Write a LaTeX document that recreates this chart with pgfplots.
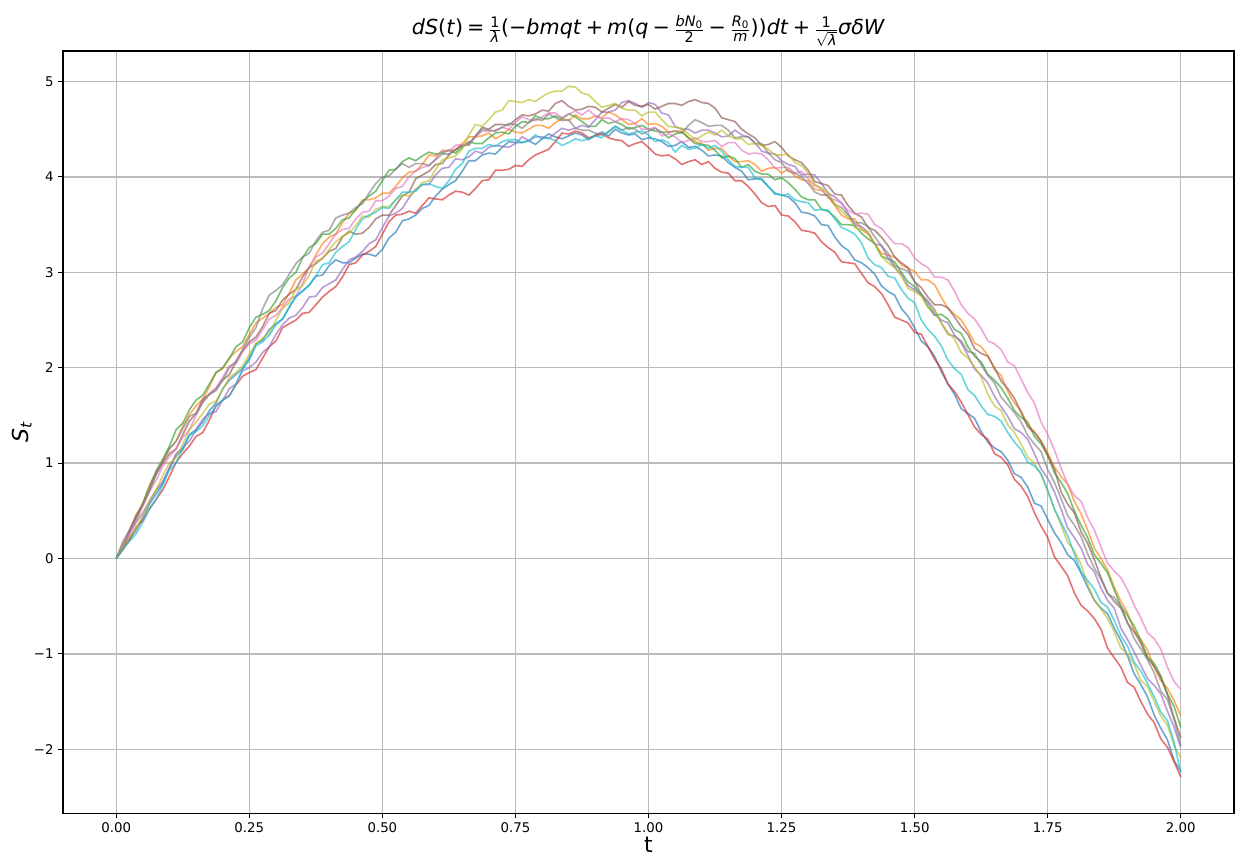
\documentclass[border=0pt]{standalone}
\usepackage{amsmath}
\usepackage{fontspec}
\setmainfont{DejaVu Sans}
\usepackage{pgfplots}
\usepackage{pgfplotstable}
\pgfplotsset{compat=1.18}
\definecolor{c0}{HTML}{1F77B4}
\definecolor{c1}{HTML}{FF7F0E}
\definecolor{c2}{HTML}{2CA02C}
\definecolor{c3}{HTML}{D62728}
\definecolor{c4}{HTML}{9467BD}
\definecolor{c5}{HTML}{8C564B}
\definecolor{c6}{HTML}{E377C2}
\definecolor{c7}{HTML}{7F7F7F}
\definecolor{c8}{HTML}{BCBD22}
\definecolor{c9}{HTML}{17BECF}
\definecolor{gridgray}{HTML}{BBBBBB}
\newcommand{\op}[1]{\hspace{0.2em}#1\hspace{0.2em}}
\pgfplotstableread{
t b o g r p br pk gr ol cy
0 0 0 0 0 0 0 0 0 0 0
0.0125 0.12 0.13 0.13 0.09 0.11 0.12 0.15 0.18 0.12 0.10
0.025 0.2 0.3 0.28 0.2 0.25 0.29 0.27 0.3 0.22 0.18
0.0375 0.30 0.46 0.41 0.33 0.38 0.45 0.39 0.43 0.32 0.26
0.05 0.43 0.58 0.58 0.4 0.48 0.56 0.55 0.57 0.45 0.38
0.0625 0.57 0.77 0.75 0.52 0.60 0.71 0.70 0.72 0.61 0.52
0.075 0.68 0.9 0.92 0.62 0.72 0.88 0.82 0.9 0.72 0.62
0.0875 0.79 1.02 1.04 0.72 0.81 1.00 0.97 1.03 0.87 0.77
0.1 0.95 1.15 1.18 0.86 0.95 1.1 1.07 1.15 1.0 0.93
0.1125 1.08 1.23 1.35 1.01 1.10 1.15 1.15 1.23 1.06 1.00
0.125 1.14 1.39 1.42 1.1 1.16 1.3 1.27 1.36 1.2 1.16
0.1375 1.30 1.51 1.56 1.18 1.23 1.44 1.35 1.49 1.35 1.29
0.15 1.35 1.6 1.66 1.28 1.35 1.52 1.5 1.52 1.43 1.33
0.1625 1.43 1.67 1.71 1.32 1.46 1.67 1.63 1.64 1.52 1.39
0.175 1.55 1.8 1.83 1.45 1.52 1.72 1.73 1.72 1.62 1.5
0.1875 1.63 1.95 1.95 1.60 1.54 1.78 1.79 1.76 1.65 1.60
0.2 1.78 1.99 2.0 1.66 1.66 1.87 1.9 1.87 1.77 1.66
0.2125 1.87 2.10 2.10 1.71 1.78 1.93 2.02 2.00 1.90 1.70
0.225 1.93 2.17 2.22 1.82 1.83 2.06 2.04 2.07 1.95 1.83
0.2375 1.99 2.22 2.27 1.91 1.97 2.18 2.17 2.19 2.02 1.99
0.25 2.1 2.35 2.42 1.95 2.0 2.27 2.25 2.32 2.14 2.08
0.2625 2.25 2.47 2.53 1.98 2.06 2.32 2.29 2.42 2.25 2.23
0.275 2.29 2.52 2.56 2.1 2.16 2.43 2.4 2.62 2.31 2.27
0.2875 2.40 2.57 2.60 2.22 2.22 2.57 2.51 2.76 2.36 2.34
0.3 2.46 2.63 2.7 2.28 2.35 2.6 2.55 2.81 2.5 2.45
0.3125 2.51 2.66 2.84 2.42 2.45 2.71 2.63 2.87 2.62 2.51
0.325 2.63 2.78 2.94 2.46 2.52 2.77 2.72 2.98 2.68 2.64
0.3375 2.75 2.92 3.00 2.50 2.55 2.82 2.75 3.09 2.82 2.74
0.35 2.8 2.98 3.15 2.57 2.63 2.95 2.88 3.16 2.86 2.81
0.3625 2.87 3.05 3.26 2.58 2.74 3.05 3.06 3.20 2.97 2.86
0.375 2.96 3.18 3.3 2.66 2.75 3.09 3.16 3.33 3.12 2.96
0.3875 2.97 3.30 3.40 2.74 2.84 3.15 3.20 3.42 3.14 3.08
0.4 3.07 3.37 3.4 2.8 2.88 3.22 3.3 3.44 3.24 3.1
0.4125 3.13 3.40 3.46 2.85 2.92 3.25 3.40 3.57 3.32 3.21
0.425 3.1 3.52 3.55 2.95 3.03 3.37 3.45 3.6 3.38 3.27
0.4375 3.10 3.62 3.57 3.08 3.13 3.43 3.46 3.62 3.41 3.32
0.45 3.15 3.65 3.66 3.1 3.16 3.4 3.56 3.68 3.49 3.45
0.4625 3.19 3.76 3.74 3.18 3.22 3.41 3.63 3.72 3.59 3.56
0.475 3.19 3.76 3.8 3.22 3.3 3.47 3.64 3.83 3.58 3.6
0.4875 3.17 3.78 3.85 3.27 3.34 3.56 3.75 3.93 3.66 3.63
0.5 3.24 3.83 3.96 3.4 3.47 3.6 3.75 4.0 3.69 3.68
0.5125 3.36 3.83 4.07 3.53 3.59 3.60 3.80 4.01 3.69 3.67
0.525 3.42 3.9 4.08 3.6 3.62 3.7 3.88 4.08 3.76 3.76
0.5375 3.54 3.99 4.16 3.61 3.67 3.80 3.90 4.14 3.81 3.84
0.55 3.56 4.05 4.2 3.64 3.78 3.84 4.0 4.1 3.8 3.84
0.5625 3.60 4.06 4.17 3.62 3.87 3.98 4.06 4.14 3.86 3.85
0.575 3.67 4.13 4.22 3.7 3.92 4.02 4.1 4.14 3.94 3.92
0.5875 3.70 4.23 4.26 3.78 3.92 4.06 4.12 4.12 3.96 3.93
0.6 3.8 4.22 4.24 3.77 4.02 4.13 4.19 4.18 4.08 3.9
0.6125 3.87 4.27 4.25 3.76 4.09 4.14 4.28 4.24 4.18 3.88
0.625 3.92 4.28 4.28 3.81 4.1 4.23 4.27 4.24 4.2 3.96
0.6375 3.96 4.28 4.25 3.85 4.19 4.29 4.33 4.28 4.22 4.08
0.65 4.06 4.35 4.31 3.84 4.18 4.33 4.34 4.33 4.29 4.14
0.6625 4.17 4.42 4.37 3.81 4.21 4.35 4.34 4.33 4.44 4.27
0.675 4.17 4.42 4.35 3.88 4.27 4.43 4.42 4.43 4.55 4.3
0.6875 4.23 4.43 4.35 3.96 4.25 4.52 4.48 4.50 4.53 4.30
0.7 4.25 4.46 4.41 3.97 4.31 4.5 4.48 4.49 4.6 4.34
0.7125 4.24 4.40 4.46 4.07 4.33 4.55 4.49 4.48 4.68 4.32
0.725 4.31 4.44 4.47 4.07 4.32 4.55 4.52 4.52 4.7 4.37
0.7375 4.37 4.50 4.45 4.08 4.31 4.54 4.50 4.56 4.80 4.39
0.75 4.36 4.47 4.53 4.12 4.35 4.6 4.57 4.55 4.79 4.39
0.7625 4.36 4.46 4.58 4.11 4.42 4.65 4.63 4.51 4.78 4.36
0.775 4.38 4.5 4.57 4.18 4.38 4.64 4.6 4.57 4.81 4.38
0.7875 4.34 4.54 4.64 4.23 4.42 4.66 4.59 4.61 4.79 4.44
0.8 4.4 4.54 4.61 4.26 4.42 4.7 4.63 4.59 4.84 4.4
0.8125 4.45 4.51 4.61 4.29 4.40 4.69 4.67 4.66 4.88 4.41
0.825 4.42 4.57 4.64 4.37 4.46 4.77 4.67 4.62 4.9 4.38
0.8375 4.40 4.61 4.61 4.46 4.51 4.80 4.62 4.59 4.90 4.33
0.85 4.43 4.59 4.66 4.45 4.49 4.74 4.66 4.6 4.95 4.36
0.8625 4.46 4.65 4.63 4.48 4.51 4.70 4.69 4.51 4.94 4.40
0.875 4.44 4.61 4.58 4.46 4.54 4.71 4.65 4.49 4.88 4.38
0.8875 4.39 4.61 4.53 4.41 4.52 4.74 4.70 4.49 4.86 4.40
0.9 4.44 4.64 4.53 4.43 4.6 4.73 4.64 4.46 4.79 4.43
0.9125 4.47 4.62 4.60 4.45 4.68 4.68 4.61 4.44 4.73 4.41
0.925 4.43 4.68 4.56 4.41 4.68 4.72 4.62 4.47 4.75 4.48
0.9375 4.50 4.65 4.58 4.39 4.70 4.76 4.58 4.53 4.77 4.53
0.95 4.46 4.6 4.55 4.38 4.78 4.73 4.61 4.49 4.72 4.49
0.9625 4.44 4.55 4.50 4.32 4.80 4.79 4.60 4.52 4.70 4.45
0.975 4.45 4.56 4.52 4.35 4.77 4.75 4.56 4.5 4.7 4.47
0.9875 4.39 4.61 4.54 4.37 4.73 4.74 4.50 4.45 4.64 4.48
1.0 4.41 4.55 4.5 4.31 4.78 4.76 4.5 4.48 4.68 4.44
1.0125 4.40 4.56 4.48 4.24 4.76 4.71 4.52 4.51 4.68 4.37
1.025 4.37 4.53 4.47 4.22 4.67 4.74 4.43 4.47 4.6 4.39
1.0375 4.32 4.47 4.41 4.23 4.65 4.77 4.45 4.47 4.53 4.36
1.05 4.33 4.48 4.45 4.19 4.53 4.77 4.42 4.48 4.52 4.26
1.0625 4.37 4.48 4.47 4.13 4.50 4.75 4.36 4.46 4.51 4.33
1.075 4.31 4.41 4.41 4.16 4.5 4.79 4.38 4.54 4.45 4.29
1.0875 4.32 4.37 4.35 4.18 4.46 4.81 4.41 4.60 4.39 4.30
1.1 4.28 4.35 4.34 4.13 4.49 4.78 4.37 4.57 4.43 4.34
1.1125 4.22 4.28 4.33 4.16 4.49 4.77 4.37 4.53 4.47 4.30
1.125 4.23 4.3 4.28 4.09 4.46 4.72 4.38 4.54 4.44 4.33
1.1375 4.22 4.30 4.20 4.05 4.42 4.62 4.32 4.54 4.49 4.27
1.15 4.15 4.22 4.22 4.04 4.43 4.6 4.36 4.49 4.43 4.18
1.1625 4.10 4.16 4.19 3.96 4.49 4.58 4.36 4.41 4.40 4.11
1.175 4.06 4.16 4.1 3.96 4.44 4.5 4.28 4.42 4.4 4.1
1.1875 3.97 4.17 4.13 3.90 4.42 4.45 4.24 4.42 4.34 4.10
1.2 3.98 4.13 4.06 3.82 4.36 4.41 4.25 4.35 4.35 3.99
1.2125 3.98 4.06 4.03 3.73 4.27 4.33 4.24 4.35 4.33 3.97
1.225 3.9 4.09 4.03 3.69 4.25 4.34 4.18 4.25 4.29 3.9
1.2375 3.83 4.10 3.97 3.70 4.24 4.37 4.09 4.18 4.23 3.82
1.25 3.81 4.04 3.99 3.6 4.17 4.31 4.1 4.15 4.23 3.81
1.2625 3.79 4.08 3.94 3.59 4.13 4.22 4.10 4.06 4.24 3.82
1.275 3.73 4.01 3.87 3.53 4.11 4.18 4.04 4.04 4.15 3.76
1.2875 3.63 3.97 3.79 3.44 4.02 4.15 4.06 4.00 4.12 3.74
1.3 3.62 3.96 3.76 3.43 4.03 4.07 3.98 3.93 4.04 3.73
1.3125 3.59 3.87 3.76 3.41 4.02 3.95 3.91 3.84 3.92 3.65
1.325 3.5 3.86 3.66 3.32 3.93 3.93 3.88 3.81 3.88 3.66
1.3375 3.49 3.79 3.64 3.26 3.83 3.91 3.78 3.81 3.83 3.65
1.35 3.37 3.7 3.58 3.21 3.79 3.82 3.76 3.71 3.72 3.56
1.3625 3.28 3.60 3.50 3.11 3.73 3.81 3.72 3.68 3.64 3.47
1.375 3.23 3.56 3.5 3.1 3.62 3.7 3.65 3.6 3.58 3.44
1.3875 3.13 3.56 3.49 3.09 3.50 3.62 3.61 3.52 3.47 3.40
1.4 3.1 3.45 3.41 2.99 3.48 3.58 3.62 3.52 3.45 3.31
1.4125 3.05 3.40 3.35 2.89 3.42 3.47 3.61 3.48 3.42 3.15
1.425 2.98 3.3 3.3 2.85 3.3 3.44 3.5 3.37 3.3 3.08
1.4375 2.86 3.20 3.17 2.78 3.28 3.37 3.46 3.28 3.17 3.05
1.45 2.8 3.18 3.14 2.66 3.15 3.28 3.38 3.2 3.1 2.96
1.4625 2.76 3.16 3.11 2.53 3.05 3.16 3.30 3.07 3.05 2.94
1.475 2.62 3.08 3.0 2.5 2.98 3.1 3.3 3.04 2.96 2.82
1.4875 2.54 3.04 2.90 2.47 2.86 3.05 3.26 3.01 2.83 2.73
1.5 2.42 3.01 2.85 2.37 2.82 2.9 3.15 2.9 2.8 2.68
1.5125 2.28 2.92 2.77 2.35 2.76 2.84 3.09 2.77 2.75 2.50
1.525 2.22 2.92 2.64 2.22 2.68 2.74 3.05 2.7 2.63 2.4
1.5375 2.12 2.87 2.55 2.09 2.56 2.66 2.95 2.61 2.60 2.33
1.55 1.96 2.74 2.56 1.99 2.5 2.66 2.95 2.47 2.47 2.23
1.5625 1.83 2.62 2.51 1.83 2.47 2.63 2.92 2.35 2.37 2.08
1.575 1.72 2.56 2.4 1.75 2.34 2.53 2.8 2.33 2.3 1.99
1.5875 1.57 2.50 2.36 1.64 2.26 2.43 2.66 2.28 2.16 1.93
1.6 1.52 2.39 2.22 1.51 2.13 2.35 2.57 2.17 2.1 1.77
1.6125 1.47 2.26 2.12 1.38 1.99 2.20 2.51 2.15 2.01 1.71
1.625 1.33 2.22 2.06 1.3 1.92 2.15 2.41 2.03 1.9 1.6
1.6375 1.22 2.13 1.93 1.25 1.84 2.12 2.28 1.92 1.72 1.51
1.65 1.16 1.98 1.87 1.1 1.7 2.0 2.25 1.84 1.6 1.49
1.6625 1.12 1.92 1.79 1.06 1.59 1.86 2.19 1.69 1.55 1.44
1.675 1.03 1.75 1.68 0.98 1.49 1.78 2.06 1.61 1.4 1.32
1.6875 0.89 1.63 1.55 0.83 1.36 1.68 2.02 1.53 1.32 1.22
1.7 0.85 1.55 1.48 0.76 1.32 1.53 1.88 1.43 1.2 1.14
1.7125 0.75 1.40 1.43 0.65 1.25 1.38 1.74 1.29 1.06 1.01
1.725 0.58 1.33 1.28 0.48 1.1 1.32 1.63 1.2 1.0 0.97
1.7375 0.55 1.23 1.20 0.34 0.94 1.23 1.43 1.12 0.88 0.89
1.75 0.41 1.11 1.08 0.22 0.84 1.08 1.3 0.93 0.7 0.72
1.7625 0.27 0.96 0.90 0.02 0.70 0.94 1.14 0.80 0.52 0.52
1.775 0.17 0.86 0.8 -0.08 0.52 0.7 0.95 0.63 0.35 0.38
1.7875 0.04 0.78 0.68 -0.18 0.32 0.57 0.78 0.45 0.17 0.24
1.8 -0.02 0.6 0.5 -0.36 0.22 0.48 0.66 0.35 0.08 0.05
1.8125 -0.15 0.47 0.35 -0.49 0.11 0.28 0.60 0.23 -0.06 -0.14
1.825 -0.3 0.3 0.22 -0.55 -0.06 0.16 0.43 0.05 -0.27 -0.23
1.8375 -0.44 0.11 0.04 -0.63 -0.14 -0.01 0.30 -0.10 -0.43 -0.32
1.85 -0.52 0.0 -0.05 -0.74 -0.31 -0.2 0.12 -0.22 -0.53 -0.46
1.8625 -0.58 -0.12 -0.15 -0.94 -0.44 -0.36 -0.05 -0.37 -0.63 -0.51
1.875 -0.73 -0.3 -0.33 -1.04 -0.52 -0.45 -0.13 -0.41 -0.77 -0.65
1.8875 -0.86 -0.45 -0.50 -1.14 -0.73 -0.52 -0.20 -0.50 -0.94 -0.81
1.9 -1.02 -0.57 -0.6 -1.3 -0.85 -0.68 -0.33 -0.67 -1.0 -0.92
1.9125 -1.21 -0.76 -0.71 -1.35 -0.98 -0.77 -0.49 -0.84 -1.11 -1.09
1.925 -1.32 -0.85 -0.86 -1.5 -1.12 -0.89 -0.62 -0.95 -1.28 -1.18
1.9375 -1.45 -0.96 -1.03 -1.63 -1.26 -1.05 -0.78 -1.06 -1.34 -1.31
1.95 -1.64 -1.14 -1.1 -1.72 -1.33 -1.13 -0.84 -1.2 -1.5 -1.45
1.9625 -1.78 -1.28 -1.23 -1.89 -1.42 -1.25 -0.95 -1.39 -1.65 -1.61
1.975 -1.9 -1.36 -1.42 -1.98 -1.6 -1.43 -1.14 -1.48 -1.75 -1.7
1.9875 -2.12 -1.49 -1.55 -2.13 -1.77 -1.67 -1.29 -1.69 -1.96 -1.93
2.0 -2.23 -1.65 -1.77 -2.29 -1.98 -1.88 -1.37 -1.96 -2.09 -2.25
}\data

\begin{document}
\begin{tikzpicture}
\begin{axis}[
  width=878pt, height=571.5pt, scale only axis,
  xmin=-0.1, xmax=2.1, ymin=-2.67, ymax=5.32,
  xtick={0,0.25,0.5,0.75,1,1.25,1.5,1.75,2},
  xticklabels={0.00,0.25,0.50,0.75,1.00,1.25,1.50,1.75,2.00},
  ytick={-2,-1,0,1,2,3,4,5},
  yticklabels={−2,−1,0,1,2,3,4,5},
  grid=major,
  major grid style={line width=1pt, color=gridgray},
  tick align=outside,
  major tick length=3.6pt,
  tick style={line width=0.8pt, color=black},
  axis line style={line width=0.8pt},
  xtick pos=bottom, ytick pos=left,
  tick label style={font=\fontsize{10}{12}\selectfont},
  xlabel={t},
  ylabel={\textit{S}$_{\textit{t}}$},
  xlabel style={font=\fontsize{16.5}{20}\selectfont, at={(axis description cs:0.5,-0.042)}, anchor=center},
  ylabel style={font=\fontsize{16.5}{20}\selectfont, at={(axis description cs:-0.0353,0.5)}, anchor=center},
  title={\textit{dS}(\textit{t})\op{=}$\frac{\text{1}}{\textit{λ}}$(−\textit{bmqt}\op{+}\textit{m}(\textit{q}\op{−}$\frac{\textit{bN}_{\text{0}}}{\text{2}}$\op{−}$\frac{\textit{R}_{\text{0}}}{\textit{m}}$))\textit{dt}\op{+}$\frac{\text{1}}{\sqrt{\textit{λ}}}$\textit{σδW}},
  title style={font=\fontsize{15.5}{19}\selectfont, at={(axis description cs:0.5,1)}, anchor=base, yshift=6pt},
  every axis plot/.append style={line width=1.2pt, opacity=0.65},
]
\addplot[c0] table[x=t,y=b]{\data};
\addplot[c1] table[x=t,y=o]{\data};
\addplot[c2] table[x=t,y=g]{\data};
\addplot[c3] table[x=t,y=r]{\data};
\addplot[c4] table[x=t,y=p]{\data};
\addplot[c5] table[x=t,y=br]{\data};
\addplot[c6] table[x=t,y=pk]{\data};
\addplot[c7] table[x=t,y=gr]{\data};
\addplot[c8] table[x=t,y=ol]{\data};
\addplot[c9] table[x=t,y=cy]{\data};
\coordinate (bl) at (rel axis cs:0,0);
\coordinate (tr) at (rel axis cs:1,1);
\node[anchor=south west, inner sep=0pt, font=\fontsize{10}{12}\selectfont, yshift=1.5pt] at (rel axis cs:0,1) {1e8};
\end{axis}
\pgfresetboundingbox
\path[use as bounding box] ([shift={(-47.25pt,-34.5pt)}]bl) rectangle ([shift={(4.5pt,38.25pt)}]tr);
\end{tikzpicture}
\end{document}
